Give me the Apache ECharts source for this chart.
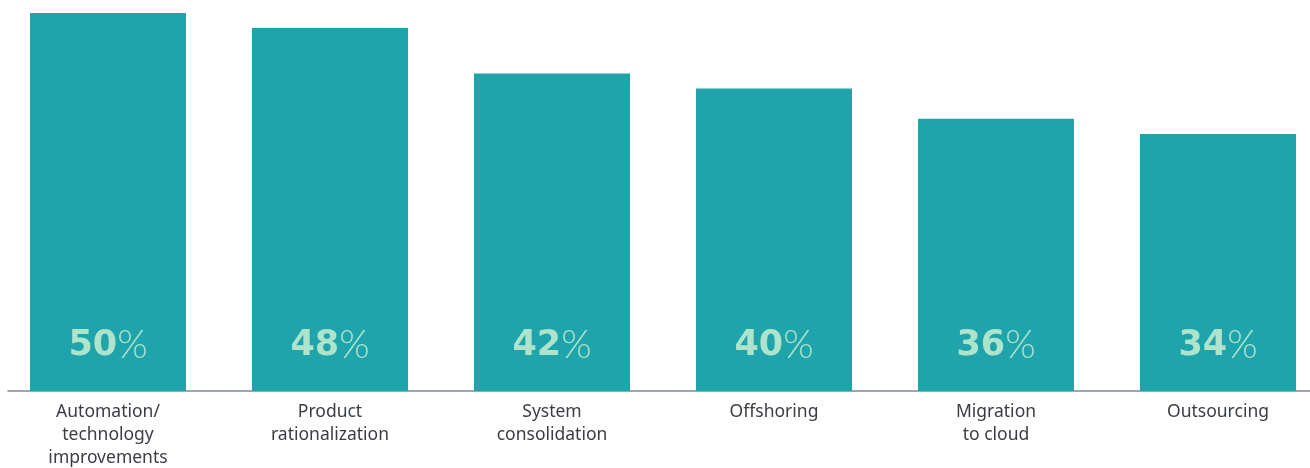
<!DOCTYPE html>
<html><head><meta charset="utf-8">
<script src="https://cdn.jsdelivr.net/npm/echarts@6/dist/echarts.min.js"></script>
<style>html,body{margin:0;padding:0;background:#fff}#c{width:1310px;height:468px}</style>
</head><body><div id="c"></div>
<script>
const categories = ["Automation/\ntechnology\nimprovements","Product\nrationalization","System\nconsolidation","Offshoring","Migration\nto cloud","Outsourcing"];
const values = [50,48,42,40,36,34];

const chart = echarts.init(document.getElementById('c'), null, {renderer:'canvas'});
chart.setOption({
  animation:false,
  grid:[
    {left:-3, width:1332, top:13, bottom:77, containLabel:false, outerBoundsMode:'none'},
    {left:8, right:0, top:13, bottom:77, containLabel:false, outerBoundsMode:'none'}
  ],
  xAxis:[
    {type:'category', gridIndex:0, data:categories, axisLine:{show:false}, axisTick:{show:false},
     axisLabel:{color:'#3a3d42', fontSize:17.5, lineHeight:23, margin:10, fontFamily:'Noto Sans', interval:0}},
    {type:'category', gridIndex:1, data:categories, axisLine:{show:true, lineStyle:{color:'#7a8aa3', width:1.5}}, axisTick:{show:false}, axisLabel:{show:false}}
  ],
  yAxis:[
    {type:'value', gridIndex:0, min:0, max:50, show:false},
    {type:'value', gridIndex:1, min:0, max:50, show:false}
  ],
  series:[{
    type:'bar', xAxisIndex:0, yAxisIndex:0, data:values, barWidth:156,
    itemStyle:{color:'#20a4ab'},
    label:{show:true, position:'insideBottom', distance:26,
      formatter: p => '{b|'+p.value+'}{n|%}',
      rich:{
        b:{fontSize:35, fontWeight:'bold', color:'#aee3cc', fontFamily:'DejaVu Sans'},
        n:{fontSize:39, fontWeight:300, color:'#aee3cc', fontFamily:'Lato'}
      }}
  }]
});
</script></body></html>
